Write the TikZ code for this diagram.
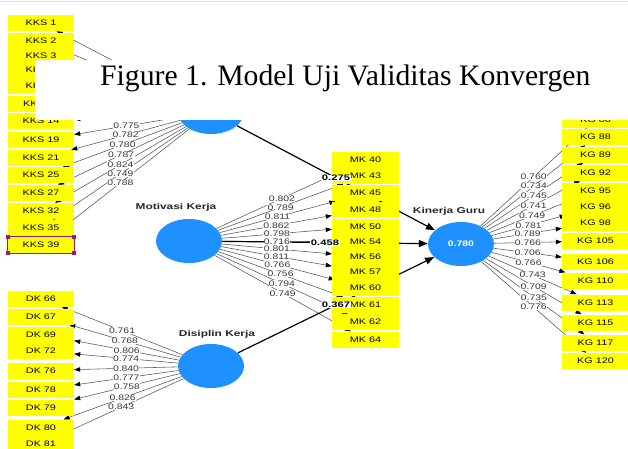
\documentclass[tikz,border=0pt]{standalone}
\usepackage{fontspec}
\setmainfont{Liberation Sans}
\newfontfamily\titlefont{Liberation Serif}
\usepackage{graphicx}
\usetikzlibrary{shapes.geometric,arrows.meta}
\definecolor{itemyellow}{RGB}{255,255,0}
\definecolor{lvblue}{RGB}{30,144,255}
\definecolor{indgray}{RGB}{85,85,85}
\definecolor{labgray}{RGB}{55,55,55}
\definecolor{selmag}{RGB}{150,25,140}
\pgfdeclarelayer{back}\pgfdeclarelayer{bg}\pgfdeclarelayer{fg}\pgfdeclarelayer{top}
\pgfsetlayers{back,bg,main,fg,top}
\newcommand{\sx}[1]{\scalebox{1.35}[1]{#1}}
\newcommand{\sxl}[1]{\scalebox{1.3}[1]{#1}}
\newcommand{\sxb}[1]{\scalebox{1.4}[1]{#1}}
\newcommand{\ibox}[3]{\node[itembox] (#1) at (#2) {\sx{#3}};}
\newcommand{\gbox}[3]{\node[itembox,minimum width=67pt] (#1) at (#2) {\sx{#3}};}
\newcommand{\indl}[3]{%
  \begin{pgfonlayer}{bg}\draw[ind] (#1) -- (#2);\end{pgfonlayer}%
  \begin{pgfonlayer}{fg}\path (#1) -- node[loadlab,midway] (L#2) {\sxl{#3}} (#2);\end{pgfonlayer}}
\newcommand{\indn}[2]{\begin{pgfonlayer}{bg}\draw[ind] (#1) -- (#2);\end{pgfonlayer}}
\begin{document}
\begin{tikzpicture}[x=1pt,y=-1pt,
  itembox/.style={rectangle, fill=itemyellow, minimum width=66pt, minimum height=16pt, inner sep=0pt, font=\fontsize{8}{9}\selectfont, text=black},
  latent/.style={ellipse, fill=lvblue, minimum width=66pt, minimum height=44pt, inner sep=0pt},
  ind/.style={draw=indgray, line width=0.55pt, -{Triangle[length=6pt,width=4.5pt,color=black]}},
  pathline/.style={draw=black, line width=1.2pt, -{Triangle[length=9pt,width=7pt]}},
  loadlab/.style={fill=white, inner sep=0.4pt, font=\fontsize{8}{9}\selectfont, text=labgray},
  coeflab/.style={fill=white, inner sep=0.6pt, font=\fontsize{8}{9}\selectfont\bfseries, text=black},
  lvname/.style={inner sep=0pt, font=\fontsize{8.5}{10}\selectfont\bfseries, text=black!85},
  handle/.style={fill=selmag, minimum size=4pt, inner sep=0pt}]
\useasboundingbox (0,0) rectangle (628,448);
\begin{pgfonlayer}{back}
\fill[white] (0,0) rectangle (628,448);
\draw[gray!25, line width=0.8pt] (0,1.5) -- (628,1.5);
\end{pgfonlayer}

% latent variables
\node[latent] (kks) at (211,112) {};
\node[latent] (mot) at (189,241) {};
\node[latent] (dis) at (211,366) {};
\node[latent] (kin) at (461,244) {\sxl{\color{white}\bfseries\fontsize{8}{9}\selectfont 0.780}};
\node[lvname] (motname) at (176,207) {\sxb{Motivasi Kerja}};
\node[lvname] (disname) at (217,334) {\sxb{Disiplin Kerja}};
\node[lvname] (kinname) at (449,211) {\sxb{Kinerja Guru}};

% KKS indicators
\ibox{k1}{41,23}{KKS 1}
\ibox{k2}{41,41}{KKS 2}
\ibox{k3}{41,56}{KKS 3}
\ibox{k5}{41,69.5}{KKS 5}
\ibox{k8}{41,86}{KKS 8}
\ibox{k11}{41,104}{KKS 11}
\ibox{k14}{41,121}{KKS 14}
\ibox{k19}{41,140}{KKS 19}
\ibox{k21}{41,158}{KKS 21}
\ibox{k25}{41,175}{KKS 25}
\ibox{k27}{41,193}{KKS 27}
\ibox{k32}{41,211}{KKS 32}
\ibox{k35}{41,228}{KKS 35}
\ibox{k39}{41,245}{KKS 39}

% DK indicators
\ibox{d66}{41,298.5}{DK 66}
\ibox{d67}{41,316.5}{DK 67}
\ibox{d69}{41,334.5}{DK 69}
\ibox{d72}{41,351}{DK 72}
\ibox{d76}{41,370.5}{DK 76}
\ibox{d78}{41,389.5}{DK 78}
\ibox{d79}{41,407.5}{DK 79}
\ibox{d80}{41,427.5}{DK 80}
\ibox{d81}{41,444}{DK 81}

% MK indicators
\gbox{m40}{365.5,160}{MK 40}
\gbox{m43}{365.5,176}{MK 43}
\gbox{m45}{365.5,193}{MK 45}
\gbox{m48}{365.5,209.5}{MK 48}
\gbox{m50}{365.5,226.5}{MK 50}
\gbox{m54}{365.5,242}{MK 54}
\gbox{m56}{365.5,257}{MK 56}
\gbox{m57}{365.5,272}{MK 57}
\gbox{m60}{365.5,288}{MK 60}
\gbox{m61}{365.5,305}{MK 61}
\gbox{m62}{365.5,322}{MK 62}
\gbox{m64}{365.5,339.5}{MK 64}

% KG indicators
\gbox{g86}{595.5,120}{KG 86}
\gbox{g88}{595.5,137}{KG 88}
\gbox{g89}{595.5,154.5}{KG 89}
\gbox{g92}{595.5,172.5}{KG 92}
\gbox{g95}{595.5,190.5}{KG 95}
\gbox{g96}{595.5,207}{KG 96}
\gbox{g98}{595.5,223}{KG 98}
\gbox{g105}{595.5,241}{KG 105}
\gbox{g106}{595.5,261.5}{KG 106}
\gbox{g110}{595.5,280.5}{KG 110}
\gbox{g113}{595.5,302.5}{KG 113}
\gbox{g115}{595.5,322.5}{KG 115}
\gbox{g117}{595.5,342.5}{KG 117}
\gbox{g120}{595.5,361}{KG 120}

% KKS loadings
\indn{kks}{k1}\indn{kks}{k2}\indn{kks}{k3}\indn{kks}{k5}\indn{kks}{k8}\indn{kks}{k11}\indn{kks}{k14}
\indl{kks}{k19}{0.775}
\indl{kks}{k21}{0.782}
\indl{kks}{k25}{0.780}
\indl{kks}{k27}{0.787}
\indl{kks}{k32}{0.824}
\indl{kks}{k35}{0.749}
\indl{kks}{k39}{0.788}

% DK loadings
\indl{dis}{d66}{0.761}
\indl{dis}{d67}{0.768}
\indl{dis}{d69}{0.806}
\indl{dis}{d72}{0.774}
\indl{dis}{d76}{0.840}
\indl{dis}{d78}{0.777}
\indl{dis}{d79}{0.758}
\indl{dis}{d80}{0.826}
\indl{dis}{d81}{0.843}

% MK loadings
\indl{mot}{m40}{0.802}
\indl{mot}{m43}{0.789}
\indl{mot}{m45}{0.811}
\indl{mot}{m48}{0.862}
\indl{mot}{m50}{0.798}
\indl{mot}{m54}{0.716}
\indl{mot}{m56}{0.801}
\indl{mot}{m57}{0.811}
\indl{mot}{m60}{0.766}
\indl{mot}{m61}{0.756}
\indl{mot}{m62}{0.794}
\indl{mot}{m64}{0.749}

% KG loadings
\indl{kin}{g86}{0.760}
\indl{kin}{g88}{0.734}
\indl{kin}{g89}{0.745}
\indl{kin}{g92}{0.741}
\indl{kin}{g95}{0.749}
\indl{kin}{g96}{0.781}
\indl{kin}{g98}{0.789}
\indl{kin}{g105}{0.766}
\indl{kin}{g106}{0.706}
\indl{kin}{g110}{0.766}
\indl{kin}{g113}{0.743}
\indl{kin}{g115}{0.709}
\indl{kin}{g117}{0.735}
\indl{kin}{g120}{0.776}

% structural paths
\begin{pgfonlayer}{bg}
\draw[pathline] (kks) -- (kin);
\draw[pathline] (mot) -- (kin);
\draw[pathline] (dis) -- (kin);
\end{pgfonlayer}
\begin{pgfonlayer}{fg}
\path (kks.center) -- node[coeflab,midway] (c1) {\sxb{0.275}} (kin.center);
\path (mot.center) -- node[coeflab,midway] (c2) {\sxb{0.458}} (kin.center);
\path (dis.center) -- node[coeflab,midway] (c3) {\sxb{0.367}} (kin.center);
% selection of KKS 39
\draw[selmag, line width=0.7pt] (k39.north west) rectangle (k39.south east);
\node[handle] (h1) at (k39.north west) {};
\node[handle] (h2) at (k39.north east) {};
\node[handle] (h3) at (k39.south west) {};
\node[handle] (h4) at (k39.south east) {};
\end{pgfonlayer}

% caption box over the model
\begin{pgfonlayer}{top}
\fill[white] (35,60) rectangle (630,119.5);
\node[anchor=base west, inner sep=0pt, font=\titlefont\fontsize{29.7}{32}\selectfont] (title) at (100,85) {Figure 1. Model Uji Validitas Konvergen};
\end{pgfonlayer}
\end{tikzpicture}
\end{document}
